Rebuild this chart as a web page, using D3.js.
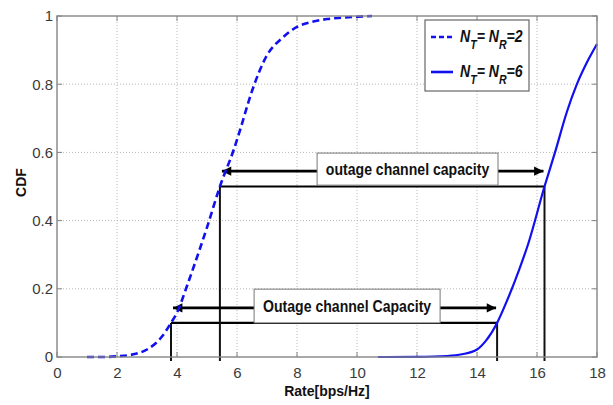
<!DOCTYPE html>
<html>
<head>
<meta charset="utf-8">
<script src="https://cdn.jsdelivr.net/npm/d3@7"></script>
<style>
  html, body { margin: 0; padding: 0; background: #fff; }
  svg { display: block; }
</style>
</head>
<body>
<svg id="chart" width="613" height="405"></svg>
<script>
// ---------- data ----------
const xTicks = [0, 2, 4, 6, 8, 10, 12, 14, 16, 18];
const yTicks = [0, 0.2, 0.4, 0.6, 0.8, 1];
const yTickLabels = ["0", "0.2", "0.4", "0.6", "0.8", "1"];

// N_T = N_R = 2 (dashed)
const rate2 = [1.0, 1.5, 2.0, 2.5, 3.0, 3.5, 3.8, 4.0, 4.3, 4.5, 5.0, 5.43, 5.9, 6.1, 6.5, 7.0, 7.5, 8.0, 8.5, 9.0, 9.5, 10.0, 10.5];
const cdf2  = [0.0, 0.0, 0.002, 0.007, 0.022, 0.06, 0.1, 0.13, 0.2, 0.25, 0.38, 0.5, 0.61, 0.665, 0.78, 0.885, 0.935, 0.968, 0.983, 0.991, 0.995, 0.998, 1.0];

// N_T = N_R = 6 (solid)
const rate6 = [10.7, 11.0, 12.0, 13.0, 13.5, 14.0, 14.3, 14.67, 15.0, 15.4, 15.7, 16.25, 16.6, 17.0, 17.33, 17.7, 18.0];
const cdf6  = [0.0, 0.0, 0.0005, 0.003, 0.008, 0.022, 0.048, 0.1, 0.165, 0.255, 0.33, 0.5, 0.6, 0.72, 0.80, 0.87, 0.918];

const seriesNames = ["2", "6"];

// outage annotations
const outageLevels = [0.1, 0.5];
const outageRate2 = [3.8, 5.43];
const outageRate6 = [14.67, 16.25];
const arrowLevels = [0.144, 0.545];
const outageLabels = ["Outage channel Capacity", "outage channel capacity"];
const labelBoxX0 = [6.57, 8.67];
const labelBoxX1 = [12.77, 14.7];
const labelBoxY0 = [0.1, 0.504];
const labelBoxY1 = [0.199, 0.598];

// ---------- layout ----------
const svg = d3.select("#chart");
const mLeft = 57, mRight = 597, mTop = 16, mBottom = 357;
const x = d3.scaleLinear().domain([0, 18]).range([mLeft, mRight]);
const y = d3.scaleLinear().domain([0, 1]).range([mBottom, mTop]);

const blue = "#1010f0";
const frameColor = "#858585";
const gridColor = "#b8b8b8";

// plot background
svg.append("rect").attr("x", mLeft).attr("y", mTop)
  .attr("width", mRight - mLeft).attr("height", mBottom - mTop).attr("fill", "#fff");

// grid
const grid = svg.append("g");
grid.selectAll("line.gx").data(xTicks.slice(1, -1)).join("line")
  .attr("x1", d => x(d)).attr("x2", d => x(d)).attr("y1", mTop).attr("y2", mBottom)
  .attr("stroke", gridColor).attr("stroke-width", 1).attr("stroke-dasharray", "1,2");
grid.selectAll("line.gy").data(yTicks.slice(1, -1)).join("line")
  .attr("x1", mLeft).attr("x2", mRight).attr("y1", d => y(d)).attr("y2", d => y(d))
  .attr("stroke", gridColor).attr("stroke-width", 1).attr("stroke-dasharray", "1,2");

// axes with labels
const xAxis = svg.append("g").attr("transform", `translate(0,${mBottom})`)
  .call(d3.axisBottom(x).tickValues(xTicks).tickSize(0).tickPadding(10).tickFormat(d3.format("d")));
xAxis.select(".domain").remove();
xAxis.selectAll("text").attr("font-family", "'Liberation Sans', Arial, sans-serif")
  .attr("font-size", 15).attr("fill", "#3a3a3a");

const yAxis = svg.append("g").attr("transform", `translate(${mLeft},0)`)
  .call(d3.axisLeft(y).tickValues(yTicks).tickSize(0).tickPadding(4).tickFormat((d, i) => yTickLabels[i]));
yAxis.select(".domain").remove();
yAxis.selectAll("text").attr("font-family", "'Liberation Sans', Arial, sans-serif")
  .attr("font-size", 15).attr("fill", "#3a3a3a");

// inward ticks on all sides
const ticks = svg.append("g").attr("stroke", frameColor).attr("stroke-width", 1);
xTicks.forEach(t => {
  ticks.append("line").attr("x1", x(t)).attr("x2", x(t)).attr("y1", mBottom).attr("y2", mBottom - 5);
  ticks.append("line").attr("x1", x(t)).attr("x2", x(t)).attr("y1", mTop).attr("y2", mTop + 5);
});
yTicks.forEach(t => {
  ticks.append("line").attr("x1", mLeft).attr("x2", mLeft + 5).attr("y1", y(t)).attr("y2", y(t));
  ticks.append("line").attr("x1", mRight).attr("x2", mRight - 5).attr("y1", y(t)).attr("y2", y(t));
});

// outage lines (black)
const ann = svg.append("g");
outageLevels.forEach((lv, i) => {
  ann.append("line").attr("x1", x(outageRate2[i])).attr("x2", x(outageRate6[i]))
    .attr("y1", y(lv)).attr("y2", y(lv)).attr("stroke", "#000").attr("stroke-width", 2.2);
  [outageRate2[i], outageRate6[i]].forEach(r => {
    ann.append("line").attr("x1", x(r)).attr("x2", x(r))
      .attr("y1", y(lv)).attr("y2", mBottom + 4).attr("stroke", "#111").attr("stroke-width", 2);
  });
});

// curves
const line = d3.line().x(d => x(d[0])).y(d => y(d[1])).curve(d3.curveMonotoneX);
svg.append("path").datum(d3.zip(rate2, cdf2)).attr("d", line)
  .attr("fill", "none").attr("stroke", blue).attr("stroke-width", 2.6).attr("stroke-dasharray", "7,4");
svg.append("path").datum(d3.zip(rate6, cdf6)).attr("d", line)
  .attr("fill", "none").attr("stroke", blue).attr("stroke-width", 2.2);

// double arrows with label boxes
const defs = svg.append("defs");
defs.append("marker").attr("id", "ah").attr("viewBox", "0 0 10 10")
  .attr("refX", 10).attr("refY", 5).attr("markerWidth", 4.2).attr("markerHeight", 3.6)
  .attr("orient", "auto-start-reverse").attr("markerUnits", "strokeWidth")
  .append("path").attr("d", "M0,0 L10,5 L0,10 z").attr("fill", "#000");

arrowLevels.forEach((lv, i) => {
  ann.append("line").attr("x1", x(outageRate2[i]) + 2).attr("x2", x(outageRate6[i]) - 1)
    .attr("y1", y(lv)).attr("y2", y(lv)).attr("stroke", "#000").attr("stroke-width", 2.6)
    .attr("marker-start", "url(#ah)").attr("marker-end", "url(#ah)");
  const bx0 = x(labelBoxX0[i]), bx1 = x(labelBoxX1[i]);
  const by0 = y(labelBoxY1[i]), by1 = y(labelBoxY0[i]);
  ann.append("rect").attr("x", bx0).attr("y", by0).attr("width", bx1 - bx0).attr("height", by1 - by0)
    .attr("fill", "#fff").attr("stroke", "#777").attr("stroke-width", 1);
  const cx = (bx0 + bx1) / 2, cy = (by0 + by1) / 2;
  ann.append("g").attr("transform", `translate(${cx},${cy + 5.5}) scale(0.88,1)`)
    .append("text").attr("text-anchor", "middle")
    .attr("font-family", "'Liberation Sans', Arial, sans-serif").attr("font-weight", "bold")
    .attr("font-size", 16).attr("fill", "#111").text(outageLabels[i]);
});

// frame
svg.append("rect").attr("x", mLeft).attr("y", mTop).attr("width", mRight - mLeft).attr("height", mBottom - mTop)
  .attr("fill", "none").attr("stroke", frameColor).attr("stroke-width", 1.4);

// axis titles
svg.append("text").attr("x", (mLeft + mRight) / 2).attr("y", 395.5).attr("text-anchor", "middle")
  .attr("font-family", "'Liberation Sans', Arial, sans-serif").attr("font-weight", "bold")
  .attr("font-size", 14).attr("fill", "#111").text("Rate[bps/Hz]");
svg.append("text").attr("transform", `translate(26,${(mTop + mBottom) / 2 - 4}) rotate(-90)`)
  .attr("text-anchor", "middle")
  .attr("font-family", "'Liberation Sans', Arial, sans-serif").attr("font-weight", "bold")
  .attr("font-size", 14).attr("fill", "#111").text("CDF");

// legend
const lg = svg.append("g");
lg.append("rect").attr("x", 425).attr("y", 20).attr("width", 104).attr("height", 71)
  .attr("fill", "#fff").attr("stroke", "#666").attr("stroke-width", 1.2);
seriesNames.forEach((n, i) => {
  const ly = 37 + i * 35;
  lg.append("line").attr("x1", 431).attr("x2", 453).attr("y1", ly).attr("y2", ly)
    .attr("stroke", blue).attr("stroke-width", i === 0 ? 2.4 : 2.6)
    .attr("stroke-dasharray", i === 0 ? "5,3" : null);
  const t = lg.append("g").attr("transform", `translate(460,${ly + 5}) scale(0.88,1)`)
    .append("text").attr("font-family", "'Liberation Sans', Arial, sans-serif")
    .attr("font-weight", "bold").attr("font-style", "italic").attr("font-size", 16).attr("fill", "#111");
  t.append("tspan").text("N");
  t.append("tspan").attr("font-size", 12).attr("dy", 7).text("T");
  t.append("tspan").attr("dy", -7).text("= N");
  t.append("tspan").attr("font-size", 12).attr("dy", 7).text("R");
  t.append("tspan").attr("dy", -7).text("=" + n);
});
</script>
</body>
</html>
